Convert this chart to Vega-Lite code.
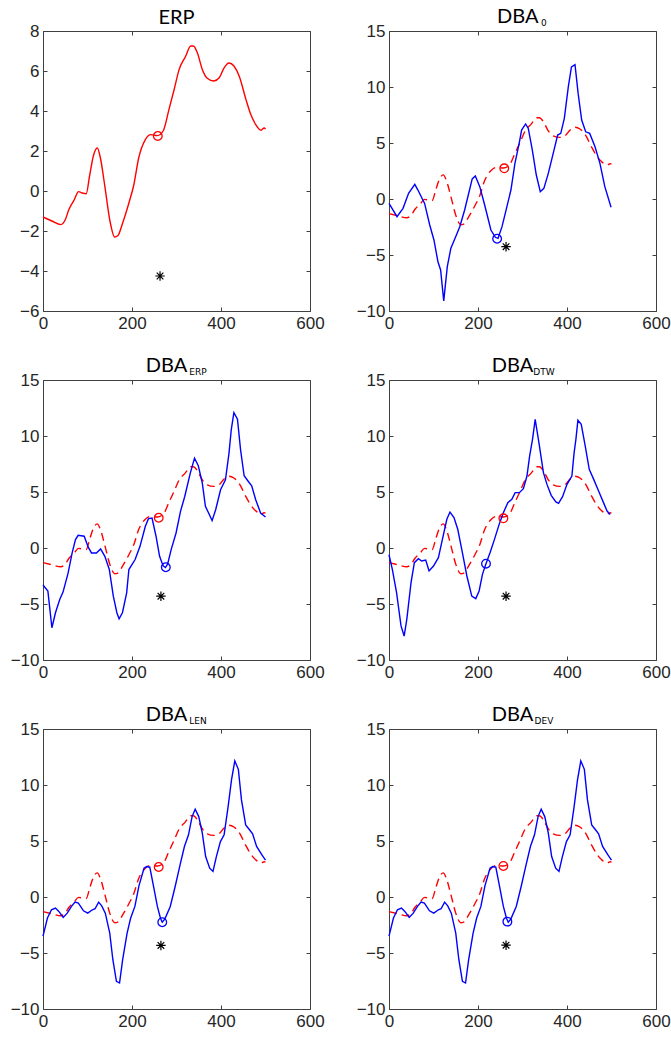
{
  "$schema": "https://vega.github.io/schema/vega-lite/v6.json",
  "background": "white",
  "padding": {"left": 10, "top": 7, "right": 10, "bottom": 5},
  "bounds": "flush",
  "columns": 2,
  "spacing": {"row": 69, "column": 79},
  "datasets": {
    "erp": [
      {"t": 0, "v": -1.3}, {"t": 20, "v": -1.5}, {"t": 40, "v": -1.68}, {"t": 50, "v": -1.44}, {"t": 58, "v": -0.94},
      {"t": 70, "v": -0.45}, {"t": 80, "v": -0.03}, {"t": 88, "v": -0.1}, {"t": 97, "v": -0.14}, {"t": 105, "v": 0.8},
      {"t": 113, "v": 1.74}, {"t": 122, "v": 2.15}, {"t": 129, "v": 1.65}, {"t": 139, "v": 0.23}, {"t": 150, "v": -1.44},
      {"t": 161, "v": -2.3}, {"t": 168, "v": -2.24}, {"t": 179, "v": -1.6}, {"t": 193, "v": -0.6}, {"t": 204, "v": 0.3},
      {"t": 215, "v": 1.65}, {"t": 230, "v": 2.57}, {"t": 242, "v": 2.82}, {"t": 257, "v": 2.77}, {"t": 270, "v": 3.0},
      {"t": 283, "v": 4.07}, {"t": 295, "v": 5.1}, {"t": 306, "v": 6.08}, {"t": 320, "v": 6.71}, {"t": 332, "v": 7.25},
      {"t": 338, "v": 7.25}, {"t": 347, "v": 6.9}, {"t": 358, "v": 6.08}, {"t": 369, "v": 5.64}, {"t": 384, "v": 5.5},
      {"t": 396, "v": 5.66}, {"t": 407, "v": 6.16}, {"t": 418, "v": 6.4}, {"t": 429, "v": 6.25}, {"t": 441, "v": 5.74},
      {"t": 456, "v": 4.58}, {"t": 467, "v": 3.82}, {"t": 478, "v": 3.32}, {"t": 490, "v": 3.04}, {"t": 497, "v": 3.15},
      {"t": 500, "v": 3.1}
    ],
    "dba0": [
      {"t": 0, "v": -0.4}, {"t": 18, "v": -1.58}, {"t": 31.5, "v": -0.83}, {"t": 44, "v": 0.51}, {"t": 58, "v": 1.31},
      {"t": 65, "v": 0.8}, {"t": 80, "v": -0.39}, {"t": 91.5, "v": -2.32}, {"t": 101, "v": -3.66}, {"t": 110, "v": -5.6},
      {"t": 116, "v": -6.34}, {"t": 123, "v": -9.1}, {"t": 131, "v": -6.04}, {"t": 139, "v": -4.4}, {"t": 151.5, "v": -3.21},
      {"t": 159, "v": -2.47}, {"t": 170, "v": -0.98}, {"t": 187, "v": 1.79}, {"t": 194, "v": 2.05}, {"t": 204, "v": 1.1},
      {"t": 215, "v": -0.54}, {"t": 229, "v": -2.77}, {"t": 239, "v": -3.42}, {"t": 245, "v": -3.51}, {"t": 254, "v": -2.47},
      {"t": 264, "v": -0.83}, {"t": 274, "v": 0.8}, {"t": 283, "v": 3.18}, {"t": 292.5, "v": 4.97}, {"t": 298, "v": 6.16},
      {"t": 307, "v": 6.7}, {"t": 313, "v": 6.3}, {"t": 322, "v": 4.38}, {"t": 331, "v": 2.14}, {"t": 340, "v": 0.65},
      {"t": 348, "v": 0.95}, {"t": 358, "v": 2.29}, {"t": 369, "v": 4.08}, {"t": 379, "v": 5.71}, {"t": 386, "v": 5.86},
      {"t": 394, "v": 7.2}, {"t": 403, "v": 10.03}, {"t": 410, "v": 11.8}, {"t": 418, "v": 12.0}, {"t": 425, "v": 9.43},
      {"t": 433, "v": 7.05}, {"t": 442, "v": 6.0}, {"t": 451, "v": 5.86}, {"t": 463, "v": 4.67}, {"t": 474, "v": 3.18},
      {"t": 485, "v": 1.1}, {"t": 499, "v": -0.74}
    ],
    "dbaerp": [
      {"t": 0, "v": -3.3}, {"t": 11, "v": -3.85}, {"t": 20, "v": -7.12}, {"t": 28, "v": -5.78}, {"t": 37.6, "v": -4.6},
      {"t": 45, "v": -3.94}, {"t": 56.5, "v": -2.22}, {"t": 65.5, "v": -0.44}, {"t": 73, "v": 0.75}, {"t": 79, "v": 1.13},
      {"t": 92.6, "v": 1.05}, {"t": 101.6, "v": 0.07}, {"t": 109, "v": -0.44}, {"t": 120, "v": -0.44}, {"t": 129.5, "v": -0.08},
      {"t": 139, "v": -0.74}, {"t": 149, "v": -1.92}, {"t": 158, "v": -4.3}, {"t": 166, "v": -5.78}, {"t": 171, "v": -6.32},
      {"t": 178.5, "v": -5.78}, {"t": 188, "v": -4.0}, {"t": 193, "v": -1.92}, {"t": 207, "v": -1.03}, {"t": 218, "v": 0.15},
      {"t": 230, "v": 1.94}, {"t": 237, "v": 2.62}, {"t": 245, "v": 2.68}, {"t": 254, "v": 1.05}, {"t": 262, "v": -0.74},
      {"t": 270, "v": -1.6}, {"t": 275, "v": -1.75}, {"t": 280, "v": -1.45}, {"t": 288, "v": -0.14}, {"t": 299, "v": 1.34},
      {"t": 309, "v": 3.27}, {"t": 318.5, "v": 4.6}, {"t": 331, "v": 6.69}, {"t": 340.5, "v": 8.02}, {"t": 349, "v": 7.34},
      {"t": 358, "v": 5.8}, {"t": 365, "v": 3.72}, {"t": 374, "v": 2.97}, {"t": 380, "v": 2.44}, {"t": 388, "v": 3.42},
      {"t": 399, "v": 5.2}, {"t": 410, "v": 6.09}, {"t": 418, "v": 8.47}, {"t": 423, "v": 10.55}, {"t": 429, "v": 12.09},
      {"t": 437, "v": 11.5}, {"t": 444, "v": 8.76}, {"t": 452, "v": 6.45}, {"t": 461.5, "v": 5.94}, {"t": 469, "v": 5.56},
      {"t": 478, "v": 4.31}, {"t": 489, "v": 3.12}, {"t": 500, "v": 2.77}
    ],
    "dbadtw": [
      {"t": 0, "v": -0.6}, {"t": 7.5, "v": -1.9}, {"t": 17, "v": -3.99}, {"t": 27, "v": -6.96}, {"t": 34, "v": -7.86},
      {"t": 40, "v": -6.37}, {"t": 49.5, "v": -3.1}, {"t": 57, "v": -1.31}, {"t": 66, "v": -0.95}, {"t": 73.5, "v": -1.16},
      {"t": 82.5, "v": -1.07}, {"t": 90, "v": -2.05}, {"t": 100, "v": -1.61}, {"t": 111, "v": -0.86}, {"t": 120, "v": 0.77},
      {"t": 130, "v": 2.56}, {"t": 137, "v": 3.21}, {"t": 146, "v": 2.71}, {"t": 154.5, "v": 1.67}, {"t": 163.5, "v": -0.12},
      {"t": 175, "v": -2.5}, {"t": 186, "v": -4.29}, {"t": 195, "v": -4.52}, {"t": 202.5, "v": -3.84}, {"t": 210, "v": -2.35},
      {"t": 217.5, "v": -1.46}, {"t": 227, "v": -0.42}, {"t": 237, "v": 0.77}, {"t": 247.5, "v": 2.11}, {"t": 257, "v": 3.15},
      {"t": 267, "v": 4.05}, {"t": 276, "v": 4.35}, {"t": 283.5, "v": 4.94}, {"t": 293, "v": 4.94}, {"t": 302, "v": 5.3},
      {"t": 310, "v": 6.43}, {"t": 316, "v": 8.21}, {"t": 322.5, "v": 9.7}, {"t": 328.5, "v": 11.49}, {"t": 337.5, "v": 9.26},
      {"t": 347, "v": 6.73}, {"t": 355, "v": 5.68}, {"t": 364.5, "v": 4.7}, {"t": 375, "v": 4.11}, {"t": 381, "v": 3.99},
      {"t": 390, "v": 4.58}, {"t": 400, "v": 5.68}, {"t": 411, "v": 6.43}, {"t": 416, "v": 8.51}, {"t": 420, "v": 9.7},
      {"t": 424.5, "v": 11.4}, {"t": 432, "v": 11.04}, {"t": 441, "v": 9.1}, {"t": 450, "v": 7.02}, {"t": 460, "v": 6.13},
      {"t": 471, "v": 5.09}, {"t": 482, "v": 4.05}, {"t": 490, "v": 3.3}, {"t": 497, "v": 3.0}
    ],
    "dbalen": [
      {"t": 0, "v": -3.5}, {"t": 10, "v": -1.88}, {"t": 19, "v": -1.14}, {"t": 28, "v": -0.99}, {"t": 35.6, "v": -1.29},
      {"t": 45.4, "v": -1.83}, {"t": 54.5, "v": -1.44}, {"t": 64, "v": -0.84}, {"t": 72, "v": -0.46}, {"t": 79.5, "v": -0.55},
      {"t": 91, "v": -1.23}, {"t": 100.6, "v": -1.44}, {"t": 111, "v": -1.14}, {"t": 117, "v": -1.05}, {"t": 125, "v": -0.46},
      {"t": 132, "v": -0.79}, {"t": 140, "v": -1.44}, {"t": 150, "v": -3.22}, {"t": 157, "v": -5.6}, {"t": 165, "v": -7.53},
      {"t": 172, "v": -7.68}, {"t": 179, "v": -5.6}, {"t": 189, "v": -3.22}, {"t": 197, "v": -1.88}, {"t": 206.5, "v": -0.84},
      {"t": 215.6, "v": 1.0}, {"t": 227, "v": 2.57}, {"t": 233, "v": 2.72}, {"t": 240, "v": 2.66}, {"t": 247, "v": 1.24},
      {"t": 257, "v": -0.84}, {"t": 264, "v": -1.9}, {"t": 268, "v": -2.25}, {"t": 274, "v": -1.95}, {"t": 286, "v": -0.84},
      {"t": 297, "v": 0.94}, {"t": 308, "v": 2.87}, {"t": 317.8, "v": 4.51}, {"t": 327, "v": 5.55}, {"t": 335, "v": 7.18},
      {"t": 342, "v": 7.84}, {"t": 350, "v": 7.18}, {"t": 358, "v": 5.7}, {"t": 365.5, "v": 3.61}, {"t": 374.6, "v": 2.57},
      {"t": 382, "v": 2.28}, {"t": 389.6, "v": 3.61}, {"t": 398.7, "v": 4.95}, {"t": 407, "v": 5.55}, {"t": 416, "v": 8.07},
      {"t": 423.6, "v": 10.45}, {"t": 431, "v": 12.15}, {"t": 439, "v": 11.4}, {"t": 446, "v": 8.67}, {"t": 455.5, "v": 6.44},
      {"t": 464, "v": 6.0}, {"t": 471, "v": 5.64}, {"t": 480, "v": 4.51}, {"t": 492, "v": 3.76}, {"t": 500, "v": 3.3}
    ],
    "marks": [
      {"panel": "ERP", "kind": "red", "t": 258, "v": 2.75},
      {"panel": "ERP", "kind": "star", "t": 263, "v": -4.25},
      {"panel": "DBA0", "kind": "red", "t": 259, "v": 2.74},
      {"panel": "DBA0", "kind": "blue", "t": 243, "v": -3.55},
      {"panel": "DBA0", "kind": "star", "t": 263, "v": -4.26},
      {"panel": "ERP2", "kind": "red", "t": 260, "v": 2.7},
      {"panel": "ERP2", "kind": "blue", "t": 276, "v": -1.72},
      {"panel": "ERP2", "kind": "star", "t": 265, "v": -4.3},
      {"panel": "DTW", "kind": "red", "t": 257, "v": 2.65},
      {"panel": "DTW", "kind": "blue", "t": 218, "v": -1.4},
      {"panel": "DTW", "kind": "star", "t": 263, "v": -4.3},
      {"panel": "LEN", "kind": "red", "t": 260, "v": 2.68},
      {"panel": "LEN", "kind": "blue", "t": 268, "v": -2.25},
      {"panel": "LEN", "kind": "star", "t": 265, "v": -4.32},
      {"panel": "DEV", "kind": "red", "t": 257, "v": 2.77},
      {"panel": "DEV", "kind": "blue", "t": 266, "v": -2.2},
      {"panel": "DEV", "kind": "star", "t": 263, "v": -4.3}
    ]
  },
  "concat": [
    {
      "title": {"text": "ERP"},
      "width": 267, "height": 280,
      "resolve": {"axis": {"x": "independent", "y": "independent"}},
      "layer": [
        {"data": {"name": "erp"},
         "mark": {"type": "line", "color": "#ff0000", "strokeWidth": 1.4, "interpolate": "monotone"},
         "encoding": {
           "x": {"field": "t", "type": "quantitative", "scale": {"domain": [0, 600], "nice": false}, "axis": {"orient": "bottom", "values": [0, 200, 400, 600], "title": null}},
           "y": {"field": "v", "type": "quantitative", "scale": {"domain": [-6, 8], "nice": false}, "axis": {"orient": "left", "values": [-6, -4, -2, 0, 2, 4, 6, 8], "title": null}}}},
        {"data": {"name": "marks"}, "transform": [{"filter": "datum.panel == 'ERP' && datum.kind == 'red'"}],
         "mark": {"type": "point", "shape": "circle", "color": "#ff0000", "size": 75, "strokeWidth": 1.3, "filled": false, "opacity": 1},
         "encoding": {
           "x": {"field": "t", "type": "quantitative", "scale": {"domain": [0, 600], "nice": false}, "axis": {"orient": "top", "values": [0, 200, 400, 600], "labels": false, "title": null}},
           "y": {"field": "v", "type": "quantitative", "scale": {"domain": [-6, 8], "nice": false}, "axis": {"orient": "right", "values": [-6, -4, -2, 0, 2, 4, 6, 8], "labels": false, "title": null}}}},
        {"data": {"name": "marks"}, "transform": [{"filter": "datum.panel == 'ERP' && datum.kind == 'star'"}],
         "mark": {"type": "point", "shape": "M0,-1L0,1M-1,0L1,0M-0.7,-0.7L0.7,0.7M-0.7,0.7L0.7,-0.7", "color": "#000000", "size": 90, "strokeWidth": 1.2, "filled": false, "opacity": 1},
         "encoding": {
           "x": {"field": "t", "type": "quantitative", "scale": {"domain": [0, 600], "nice": false}, "axis": null},
           "y": {"field": "v", "type": "quantitative", "scale": {"domain": [-6, 8], "nice": false}, "axis": null}}}
      ]
    },
    {
      "title": {"text": "DBA\u00a0\u00a0\u200b", "subtitle": "\u200b\u00a0\u00a0\u00a0\u00a0\u00a0\u00a0\u00a0\u00a0\u00a0\u00a0\u00a0\u00a0\u00a0\u00a0\u00a00"},
      "width": 267, "height": 280,
      "resolve": {"axis": {"x": "independent", "y": "independent"}},
      "layer": [
        {"data": {"name": "erp"},
         "mark": {"type": "line", "color": "#ff0000", "strokeWidth": 1.4, "strokeDash": [8, 5], "interpolate": "monotone"},
         "encoding": {
           "x": {"field": "t", "type": "quantitative", "scale": {"domain": [0, 600], "nice": false}, "axis": {"orient": "bottom", "values": [0, 200, 400, 600], "title": null}},
           "y": {"field": "v", "type": "quantitative", "scale": {"domain": [-10, 15], "nice": false}, "axis": {"orient": "left", "values": [-10, -5, 0, 5, 10, 15], "title": null}}}},
        {"data": {"name": "dba0"},
         "mark": {"type": "line", "color": "#0000ff", "strokeWidth": 1.4},
         "encoding": {
           "x": {"field": "t", "type": "quantitative", "scale": {"domain": [0, 600], "nice": false}, "axis": {"orient": "top", "values": [0, 200, 400, 600], "labels": false, "title": null}},
           "y": {"field": "v", "type": "quantitative", "scale": {"domain": [-10, 15], "nice": false}, "axis": {"orient": "right", "values": [-10, -5, 0, 5, 10, 15], "labels": false, "title": null}}}},
        {"data": {"name": "marks"}, "transform": [{"filter": "datum.panel == 'DBA0' && datum.kind == 'red'"}],
         "mark": {"type": "point", "shape": "circle", "color": "#ff0000", "size": 75, "strokeWidth": 1.3, "filled": false, "opacity": 1},
         "encoding": {
           "x": {"field": "t", "type": "quantitative", "scale": {"domain": [0, 600], "nice": false}, "axis": null},
           "y": {"field": "v", "type": "quantitative", "scale": {"domain": [-10, 15], "nice": false}, "axis": null}}},
        {"data": {"name": "marks"}, "transform": [{"filter": "datum.panel == 'DBA0' && datum.kind == 'blue'"}],
         "mark": {"type": "point", "shape": "circle", "color": "#0000ff", "size": 75, "strokeWidth": 1.3, "filled": false, "opacity": 1},
         "encoding": {
           "x": {"field": "t", "type": "quantitative", "scale": {"domain": [0, 600], "nice": false}, "axis": null},
           "y": {"field": "v", "type": "quantitative", "scale": {"domain": [-10, 15], "nice": false}, "axis": null}}},
        {"data": {"name": "marks"}, "transform": [{"filter": "datum.panel == 'DBA0' && datum.kind == 'star'"}],
         "mark": {"type": "point", "shape": "M0,-1L0,1M-1,0L1,0M-0.7,-0.7L0.7,0.7M-0.7,0.7L0.7,-0.7", "color": "#000000", "size": 90, "strokeWidth": 1.2, "filled": false, "opacity": 1},
         "encoding": {
           "x": {"field": "t", "type": "quantitative", "scale": {"domain": [0, 600], "nice": false}, "axis": null},
           "y": {"field": "v", "type": "quantitative", "scale": {"domain": [-10, 15], "nice": false}, "axis": null}}}
      ]
    },
    {
      "title": {"text": "DBA\u00a0\u00a0\u00a0\u00a0\u200b", "subtitle": "\u200b\u00a0\u00a0\u00a0\u00a0\u00a0\u00a0\u00a0\u00a0\u00a0\u00a0\u00a0\u00a0\u00a0\u00a0\u00a0ERP"},
      "width": 267, "height": 280,
      "resolve": {"axis": {"x": "independent", "y": "independent"}},
      "layer": [
        {"data": {"name": "erp"},
         "mark": {"type": "line", "color": "#ff0000", "strokeWidth": 1.4, "strokeDash": [8, 5], "interpolate": "monotone"},
         "encoding": {
           "x": {"field": "t", "type": "quantitative", "scale": {"domain": [0, 600], "nice": false}, "axis": {"orient": "bottom", "values": [0, 200, 400, 600], "title": null}},
           "y": {"field": "v", "type": "quantitative", "scale": {"domain": [-10, 15], "nice": false}, "axis": {"orient": "left", "values": [-10, -5, 0, 5, 10, 15], "title": null}}}},
        {"data": {"name": "dbaerp"},
         "mark": {"type": "line", "color": "#0000ff", "strokeWidth": 1.4},
         "encoding": {
           "x": {"field": "t", "type": "quantitative", "scale": {"domain": [0, 600], "nice": false}, "axis": {"orient": "top", "values": [0, 200, 400, 600], "labels": false, "title": null}},
           "y": {"field": "v", "type": "quantitative", "scale": {"domain": [-10, 15], "nice": false}, "axis": {"orient": "right", "values": [-10, -5, 0, 5, 10, 15], "labels": false, "title": null}}}},
        {"data": {"name": "marks"}, "transform": [{"filter": "datum.panel == 'ERP2' && datum.kind == 'red'"}],
         "mark": {"type": "point", "shape": "circle", "color": "#ff0000", "size": 75, "strokeWidth": 1.3, "filled": false, "opacity": 1},
         "encoding": {
           "x": {"field": "t", "type": "quantitative", "scale": {"domain": [0, 600], "nice": false}, "axis": null},
           "y": {"field": "v", "type": "quantitative", "scale": {"domain": [-10, 15], "nice": false}, "axis": null}}},
        {"data": {"name": "marks"}, "transform": [{"filter": "datum.panel == 'ERP2' && datum.kind == 'blue'"}],
         "mark": {"type": "point", "shape": "circle", "color": "#0000ff", "size": 75, "strokeWidth": 1.3, "filled": false, "opacity": 1},
         "encoding": {
           "x": {"field": "t", "type": "quantitative", "scale": {"domain": [0, 600], "nice": false}, "axis": null},
           "y": {"field": "v", "type": "quantitative", "scale": {"domain": [-10, 15], "nice": false}, "axis": null}}},
        {"data": {"name": "marks"}, "transform": [{"filter": "datum.panel == 'ERP2' && datum.kind == 'star'"}],
         "mark": {"type": "point", "shape": "M0,-1L0,1M-1,0L1,0M-0.7,-0.7L0.7,0.7M-0.7,0.7L0.7,-0.7", "color": "#000000", "size": 90, "strokeWidth": 1.2, "filled": false, "opacity": 1},
         "encoding": {
           "x": {"field": "t", "type": "quantitative", "scale": {"domain": [0, 600], "nice": false}, "axis": null},
           "y": {"field": "v", "type": "quantitative", "scale": {"domain": [-10, 15], "nice": false}, "axis": null}}}
      ]
    },
    {
      "title": {"text": "DBA\u00a0\u00a0\u00a0\u00a0\u200b", "subtitle": "\u200b\u00a0\u00a0\u00a0\u00a0\u00a0\u00a0\u00a0\u00a0\u00a0\u00a0\u00a0\u00a0\u00a0\u00a0\u00a0DTW"},
      "width": 267, "height": 280,
      "resolve": {"axis": {"x": "independent", "y": "independent"}},
      "layer": [
        {"data": {"name": "erp"},
         "mark": {"type": "line", "color": "#ff0000", "strokeWidth": 1.4, "strokeDash": [8, 5], "interpolate": "monotone"},
         "encoding": {
           "x": {"field": "t", "type": "quantitative", "scale": {"domain": [0, 600], "nice": false}, "axis": {"orient": "bottom", "values": [0, 200, 400, 600], "title": null}},
           "y": {"field": "v", "type": "quantitative", "scale": {"domain": [-10, 15], "nice": false}, "axis": {"orient": "left", "values": [-10, -5, 0, 5, 10, 15], "title": null}}}},
        {"data": {"name": "dbadtw"},
         "mark": {"type": "line", "color": "#0000ff", "strokeWidth": 1.4},
         "encoding": {
           "x": {"field": "t", "type": "quantitative", "scale": {"domain": [0, 600], "nice": false}, "axis": {"orient": "top", "values": [0, 200, 400, 600], "labels": false, "title": null}},
           "y": {"field": "v", "type": "quantitative", "scale": {"domain": [-10, 15], "nice": false}, "axis": {"orient": "right", "values": [-10, -5, 0, 5, 10, 15], "labels": false, "title": null}}}},
        {"data": {"name": "marks"}, "transform": [{"filter": "datum.panel == 'DTW' && datum.kind == 'red'"}],
         "mark": {"type": "point", "shape": "circle", "color": "#ff0000", "size": 75, "strokeWidth": 1.3, "filled": false, "opacity": 1},
         "encoding": {
           "x": {"field": "t", "type": "quantitative", "scale": {"domain": [0, 600], "nice": false}, "axis": null},
           "y": {"field": "v", "type": "quantitative", "scale": {"domain": [-10, 15], "nice": false}, "axis": null}}},
        {"data": {"name": "marks"}, "transform": [{"filter": "datum.panel == 'DTW' && datum.kind == 'blue'"}],
         "mark": {"type": "point", "shape": "circle", "color": "#0000ff", "size": 75, "strokeWidth": 1.3, "filled": false, "opacity": 1},
         "encoding": {
           "x": {"field": "t", "type": "quantitative", "scale": {"domain": [0, 600], "nice": false}, "axis": null},
           "y": {"field": "v", "type": "quantitative", "scale": {"domain": [-10, 15], "nice": false}, "axis": null}}},
        {"data": {"name": "marks"}, "transform": [{"filter": "datum.panel == 'DTW' && datum.kind == 'star'"}],
         "mark": {"type": "point", "shape": "M0,-1L0,1M-1,0L1,0M-0.7,-0.7L0.7,0.7M-0.7,0.7L0.7,-0.7", "color": "#000000", "size": 90, "strokeWidth": 1.2, "filled": false, "opacity": 1},
         "encoding": {
           "x": {"field": "t", "type": "quantitative", "scale": {"domain": [0, 600], "nice": false}, "axis": null},
           "y": {"field": "v", "type": "quantitative", "scale": {"domain": [-10, 15], "nice": false}, "axis": null}}}
      ]
    },
    {
      "title": {"text": "DBA\u00a0\u00a0\u00a0\u00a0\u200b", "subtitle": "\u200b\u00a0\u00a0\u00a0\u00a0\u00a0\u00a0\u00a0\u00a0\u00a0\u00a0\u00a0\u00a0\u00a0\u00a0\u00a0LEN"},
      "width": 267, "height": 280,
      "resolve": {"axis": {"x": "independent", "y": "independent"}},
      "layer": [
        {"data": {"name": "erp"},
         "mark": {"type": "line", "color": "#ff0000", "strokeWidth": 1.4, "strokeDash": [8, 5], "interpolate": "monotone"},
         "encoding": {
           "x": {"field": "t", "type": "quantitative", "scale": {"domain": [0, 600], "nice": false}, "axis": {"orient": "bottom", "values": [0, 200, 400, 600], "title": null}},
           "y": {"field": "v", "type": "quantitative", "scale": {"domain": [-10, 15], "nice": false}, "axis": {"orient": "left", "values": [-10, -5, 0, 5, 10, 15], "title": null}}}},
        {"data": {"name": "dbalen"},
         "mark": {"type": "line", "color": "#0000ff", "strokeWidth": 1.4},
         "encoding": {
           "x": {"field": "t", "type": "quantitative", "scale": {"domain": [0, 600], "nice": false}, "axis": {"orient": "top", "values": [0, 200, 400, 600], "labels": false, "title": null}},
           "y": {"field": "v", "type": "quantitative", "scale": {"domain": [-10, 15], "nice": false}, "axis": {"orient": "right", "values": [-10, -5, 0, 5, 10, 15], "labels": false, "title": null}}}},
        {"data": {"name": "marks"}, "transform": [{"filter": "datum.panel == 'LEN' && datum.kind == 'red'"}],
         "mark": {"type": "point", "shape": "circle", "color": "#ff0000", "size": 75, "strokeWidth": 1.3, "filled": false, "opacity": 1},
         "encoding": {
           "x": {"field": "t", "type": "quantitative", "scale": {"domain": [0, 600], "nice": false}, "axis": null},
           "y": {"field": "v", "type": "quantitative", "scale": {"domain": [-10, 15], "nice": false}, "axis": null}}},
        {"data": {"name": "marks"}, "transform": [{"filter": "datum.panel == 'LEN' && datum.kind == 'blue'"}],
         "mark": {"type": "point", "shape": "circle", "color": "#0000ff", "size": 75, "strokeWidth": 1.3, "filled": false, "opacity": 1},
         "encoding": {
           "x": {"field": "t", "type": "quantitative", "scale": {"domain": [0, 600], "nice": false}, "axis": null},
           "y": {"field": "v", "type": "quantitative", "scale": {"domain": [-10, 15], "nice": false}, "axis": null}}},
        {"data": {"name": "marks"}, "transform": [{"filter": "datum.panel == 'LEN' && datum.kind == 'star'"}],
         "mark": {"type": "point", "shape": "M0,-1L0,1M-1,0L1,0M-0.7,-0.7L0.7,0.7M-0.7,0.7L0.7,-0.7", "color": "#000000", "size": 90, "strokeWidth": 1.2, "filled": false, "opacity": 1},
         "encoding": {
           "x": {"field": "t", "type": "quantitative", "scale": {"domain": [0, 600], "nice": false}, "axis": null},
           "y": {"field": "v", "type": "quantitative", "scale": {"domain": [-10, 15], "nice": false}, "axis": null}}}
      ]
    },
    {
      "title": {"text": "DBA\u00a0\u00a0\u00a0\u00a0\u200b", "subtitle": "\u200b\u00a0\u00a0\u00a0\u00a0\u00a0\u00a0\u00a0\u00a0\u00a0\u00a0\u00a0\u00a0\u00a0\u00a0\u00a0DEV"},
      "width": 267, "height": 280,
      "resolve": {"axis": {"x": "independent", "y": "independent"}},
      "layer": [
        {"data": {"name": "erp"},
         "mark": {"type": "line", "color": "#ff0000", "strokeWidth": 1.4, "strokeDash": [8, 5], "interpolate": "monotone"},
         "encoding": {
           "x": {"field": "t", "type": "quantitative", "scale": {"domain": [0, 600], "nice": false}, "axis": {"orient": "bottom", "values": [0, 200, 400, 600], "title": null}},
           "y": {"field": "v", "type": "quantitative", "scale": {"domain": [-10, 15], "nice": false}, "axis": {"orient": "left", "values": [-10, -5, 0, 5, 10, 15], "title": null}}}},
        {"data": {"name": "dbalen"},
         "mark": {"type": "line", "color": "#0000ff", "strokeWidth": 1.4},
         "encoding": {
           "x": {"field": "t", "type": "quantitative", "scale": {"domain": [0, 600], "nice": false}, "axis": {"orient": "top", "values": [0, 200, 400, 600], "labels": false, "title": null}},
           "y": {"field": "v", "type": "quantitative", "scale": {"domain": [-10, 15], "nice": false}, "axis": {"orient": "right", "values": [-10, -5, 0, 5, 10, 15], "labels": false, "title": null}}}},
        {"data": {"name": "marks"}, "transform": [{"filter": "datum.panel == 'DEV' && datum.kind == 'red'"}],
         "mark": {"type": "point", "shape": "circle", "color": "#ff0000", "size": 75, "strokeWidth": 1.3, "filled": false, "opacity": 1},
         "encoding": {
           "x": {"field": "t", "type": "quantitative", "scale": {"domain": [0, 600], "nice": false}, "axis": null},
           "y": {"field": "v", "type": "quantitative", "scale": {"domain": [-10, 15], "nice": false}, "axis": null}}},
        {"data": {"name": "marks"}, "transform": [{"filter": "datum.panel == 'DEV' && datum.kind == 'blue'"}],
         "mark": {"type": "point", "shape": "circle", "color": "#0000ff", "size": 75, "strokeWidth": 1.3, "filled": false, "opacity": 1},
         "encoding": {
           "x": {"field": "t", "type": "quantitative", "scale": {"domain": [0, 600], "nice": false}, "axis": null},
           "y": {"field": "v", "type": "quantitative", "scale": {"domain": [-10, 15], "nice": false}, "axis": null}}},
        {"data": {"name": "marks"}, "transform": [{"filter": "datum.panel == 'DEV' && datum.kind == 'star'"}],
         "mark": {"type": "point", "shape": "M0,-1L0,1M-1,0L1,0M-0.7,-0.7L0.7,0.7M-0.7,0.7L0.7,-0.7", "color": "#000000", "size": 90, "strokeWidth": 1.2, "filled": false, "opacity": 1},
         "encoding": {
           "x": {"field": "t", "type": "quantitative", "scale": {"domain": [0, 600], "nice": false}, "axis": null},
           "y": {"field": "v", "type": "quantitative", "scale": {"domain": [-10, 15], "nice": false}, "axis": null}}}
      ]
    }
  ],
  "config": {
    "view": {"stroke": null},
    "axis": {
      "domainColor": "#404040", "domainWidth": 1, "tickColor": "#404040", "tickSize": -4, "tickWidth": 1,
      "labelColor": "#262626", "labelFont": "Liberation Sans", "labelFontSize": 17, "labelPadding": 8,
      "labelFlush": false, "labelOverlap": false, "grid": false
    },
    "title": {
      "font": "Lato", "fontSize": 20, "fontWeight": "normal", "color": "#000000", "anchor": "middle", "offset": -6,
      "subtitleFont": "DejaVu Sans", "subtitleFontSize": 9, "subtitleColor": "#000000", "subtitlePadding": -8
    }
  }
}
